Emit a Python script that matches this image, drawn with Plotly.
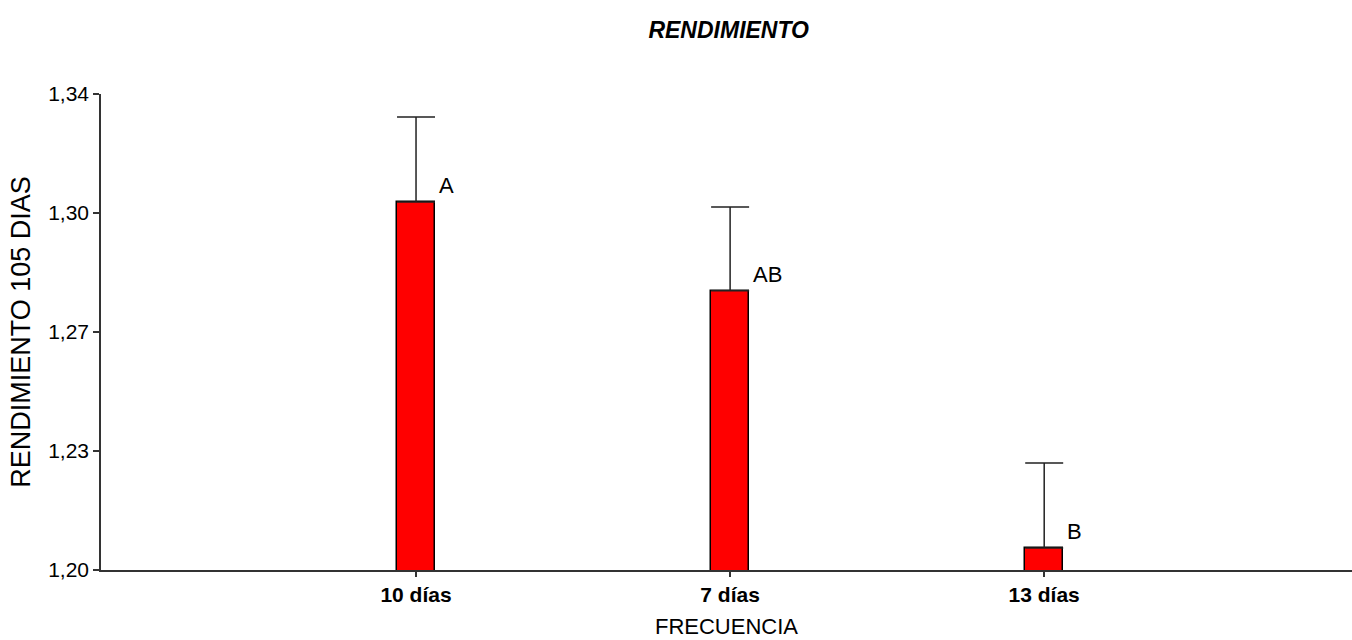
import plotly.graph_objects as go

# Rendimiento a los 105 días según frecuencia
categorias = ["10 días", "7 días", "13 días"]
rendimiento = [1.3082, 1.2821, 1.2065]
error_sup = [0.0250, 0.0247, 0.0250]
letras = ["A", "AB", "B"]

y_ticks = [1.20, 1.235, 1.27, 1.305, 1.34]
y_tick_text = ["1,20", "1,23", "1,27", "1,30", "1,34"]

FONT = "Liberation Sans, Arial, sans-serif"

fig = go.Figure()
fig.add_trace(go.Bar(
    x=categorias,
    y=rendimiento,
    width=0.121,
    marker=dict(color="#ff0000", line=dict(color="#000000", width=1.5)),
    error_y=dict(type="data", symmetric=False, array=error_sup,
                 arrayminus=[0, 0, 0], color="#222222", thickness=1.5, width=19),
    base=0,
    showlegend=False,
))

for cat, val, letra in zip(categorias, rendimiento, letras):
    fig.add_annotation(
        x=cat, y=val, xref="x", yref="y", text=letra, showarrow=False,
        xanchor="left", yanchor="bottom", xshift=21, yshift=2,
        font=dict(family=FONT, size=22, color="#000000"),
    )

fig.update_layout(
    width=1352, height=640,
    margin=dict(l=101, r=0, t=94, b=70),
    plot_bgcolor="#ffffff", paper_bgcolor="#ffffff",
    title=dict(text="<b><i>RENDIMIENTO</i></b>", x=0.539, xanchor="center",
               y=0.953, yanchor="middle",
               font=dict(family=FONT, size=23, color="#000000")),
    bargap=0,
)

fig.update_xaxes(
    range=[-1.003, 2.98], showline=True, linecolor="#333333", linewidth=1.5,
    ticks="outside", ticklen=5, tickcolor="#333333", tickwidth=1.5,
    showgrid=False, zeroline=False,
    tickfont=dict(family=FONT, size=21, color="#000000"),
    tickprefix="<b>", ticksuffix="</b>",
    title=dict(text="FRECUENCIA", standoff=14,
               font=dict(family=FONT, size=22, color="#000000")),
)
fig.update_yaxes(
    range=[1.20, 1.34], tickvals=y_ticks, ticktext=y_tick_text,
    showline=True, linecolor="#333333", linewidth=1.5,
    ticks="outside", ticklen=6, tickcolor="#333333", tickwidth=1.5,
    showgrid=False, zeroline=False,
    tickfont=dict(family=FONT, size=21, color="#000000"),
    title=dict(text="RENDIMIENTO 105 DIAS", standoff=10,
               font=dict(family=FONT, size=27, color="#000000")),
)

fig.write_html("out.html")
